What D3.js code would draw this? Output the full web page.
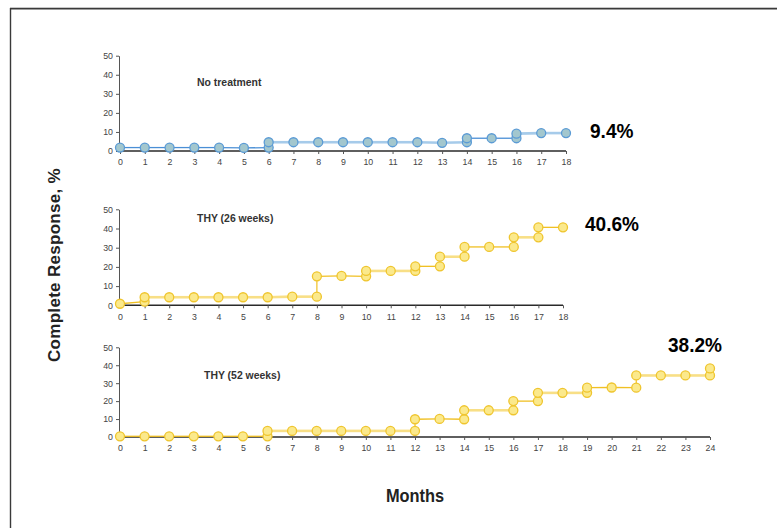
<!DOCTYPE html>
<html>
<head>
<meta charset="utf-8">
<script src="https://cdn.jsdelivr.net/npm/d3@7"></script>
<style>
  html, body { margin: 0; padding: 0; background: #fff; }
  svg { display: block; }
  text { font-family: "Liberation Sans", Arial, Helvetica, sans-serif; }
</style>
</head>
<body>
<svg id="chart" width="777" height="528"></svg>
<script>
// Complete response over time, three cohorts (step curves with observation markers)
const yTicks = [0, 10, 20, 30, 40, 50];

const noTreatLabel = "No treatment";
const noTreatFinal = "9.4%";
const noTreatMonths = [0, 1, 2, 3, 4, 5, 6, 6, 7, 8, 9, 10, 11, 12, 13, 14, 14, 15, 16, 16, 17, 18];
const noTreatCR     = [1.8, 1.8, 1.8, 1.8, 1.8, 1.6, 1.8, 4.6, 4.6, 4.6, 4.6, 4.6, 4.6, 4.6, 4.3, 4.6, 6.7, 6.7, 6.7, 9.1, 9.4, 9.4];

const thy26Label = "THY (26 weeks)";
const thy26Final = "40.6%";
const thy26Months = [0, 1, 1, 2, 3, 4, 5, 6, 7, 8, 8, 9, 10, 10, 11, 12, 12, 13, 13, 14, 14, 15, 16, 16, 17, 17, 18];
const thy26CR     = [0.8, 1.9, 4.2, 4.2, 4.2, 4.2, 4.2, 4.2, 4.5, 4.5, 15.1, 15.3, 15.1, 17.9, 17.9, 17.9, 20.3, 20.3, 25.3, 25.3, 30.4, 30.4, 30.4, 35.4, 35.4, 40.6, 40.6];

const thy52Label = "THY (52 weeks)";
const thy52Final = "38.2%";
const thy52Months = [0, 1, 2, 3, 4, 5, 6, 6, 7, 8, 9, 10, 11, 12, 12, 13, 14, 14, 15, 16, 16, 17, 17, 18, 19, 19, 20, 21, 21, 22, 23, 24, 24];
const thy52CR     = [0.4, 0.4, 0.4, 0.4, 0.4, 0.4, 0.4, 3.4, 3.4, 3.4, 3.4, 3.4, 3.4, 3.4, 9.9, 10.1, 9.9, 14.9, 14.9, 14.9, 20, 20, 24.6, 24.6, 24.6, 27.5, 27.6, 27.5, 34.3, 34.3, 34.3, 34.3, 38.2];

const yTitle = "Complete Response, %";
const xTitle = "Months";

const blueStyle = { dark: "#4a8fd6", light: "#a6cbea", fill: "#a3c7ce", stroke: "#5b9bd5" };
const goldStyle = { dark: "#f0c024", light: "#f8df86", fill: "#fbe98c", stroke: "#efc52e" };

const panels = [
  { label: noTreatLabel, final: noTreatFinal, months: noTreatMonths, cr: noTreatCR, maxMonth: 18,
    xr: [120, 566], yr: [151, 55.7], style: blueStyle,
    labelPos: [197, 85.5], finalPos: [590, 138] },
  { label: thy26Label, final: thy26Final, months: thy26Months, cr: thy26CR, maxMonth: 18,
    xr: [120, 563], yr: [305.3, 209.3], style: goldStyle,
    labelPos: [197, 222], finalPos: [585, 231] },
  { label: thy52Label, final: thy52Final, months: thy52Months, cr: thy52CR, maxMonth: 24,
    xr: [120, 710], yr: [437, 347.3], style: goldStyle,
    labelPos: [204, 379], finalPos: [668, 352] }
];

const svg = d3.select("#chart");

// frame around the figure
svg.append("line").attr("x1", 10).attr("x2", 777).attr("y1", 7.5).attr("y2", 7.5)
  .attr("stroke", "#c8c8c8").attr("stroke-width", 1);
svg.append("line").attr("x1", 10).attr("x2", 777).attr("y1", 8.8).attr("y2", 8.8)
  .attr("stroke", "#3a3a3a").attr("stroke-width", 1.4);
svg.append("line").attr("x1", 10.5).attr("x2", 10.5).attr("y1", 8).attr("y2", 528)
  .attr("stroke", "#3a3a3a").attr("stroke-width", 1.4);

panels.forEach(p => {
  const x = d3.scaleLinear().domain([0, p.maxMonth]).range(p.xr);
  const y = d3.scaleLinear().domain([0, 50]).range(p.yr);
  const g = svg.append("g");

  // y axis
  const ya = g.append("g").attr("transform", `translate(${p.xr[0] - 1},0)`)
    .call(d3.axisLeft(y).tickValues(yTicks).tickSize(3).tickSizeOuter(0).tickPadding(3));
  ya.select(".domain").attr("stroke", "#555").attr("stroke-width", 1);
  ya.selectAll(".tick line").attr("stroke", "#555");
  ya.selectAll(".tick text").attr("fill", "#444").style("font-size", "8.8px")
    .style("font-family", "Liberation Sans, Arial, sans-serif");

  // x axis
  const xa = g.append("g").attr("transform", `translate(0,${p.yr[0]})`)
    .call(d3.axisBottom(x).tickValues(d3.range(0, p.maxMonth + 1)).tickSize(3).tickSizeOuter(0).tickPadding(5));
  xa.select(".domain").attr("stroke", "#2a2a2a").attr("stroke-width", 1.5)
    .attr("d", `M${p.xr[0] - 1},0H${p.xr[1]}`);
  xa.selectAll(".tick line").attr("stroke", "#555");
  xa.selectAll(".tick text").attr("fill", "#444").style("font-size", "8.8px")
    .style("font-family", "Liberation Sans, Arial, sans-serif");

  // points in order; a repeated month is a jump in the step curve
  const pts = p.months.map((m, i) => ({ m, v: p.cr[i] }));
  let run = 0;
  const segs = [];
  for (let i = 1; i < pts.length; i++) {
    const a = pts[i - 1], b = pts[i];
    if (a.m === b.m) {
      run += 1;
      segs.push({ a, b, vertical: true });
    } else {
      segs.push({ a, b, vertical: false, run });
    }
  }

  // horizontal runs alternate between a pale wide stroke and a darker thin one
  g.append("g").selectAll("line").data(segs.filter(s => !s.vertical)).join("line")
    .attr("x1", s => x(s.a.m)).attr("y1", s => y(s.a.v))
    .attr("x2", s => x(s.b.m)).attr("y2", s => y(s.b.v))
    .attr("stroke", s => s.run % 2 ? p.style.light : p.style.dark)
    .attr("stroke-width", s => s.run % 2 ? 2.6 : 1.3);
  g.append("g").selectAll("line").data(segs.filter(s => s.vertical)).join("line")
    .attr("x1", s => x(s.a.m)).attr("y1", s => y(s.a.v))
    .attr("x2", s => x(s.b.m)).attr("y2", s => y(s.b.v))
    .attr("stroke", p.style.dark).attr("stroke-width", 1.2);

  // markers
  g.append("g").selectAll("circle").data(pts).join("circle")
    .attr("cx", d => x(d.m)).attr("cy", d => y(d.v)).attr("r", 4.5)
    .attr("fill", p.style.fill).attr("stroke", p.style.stroke).attr("stroke-width", 1.3);

  // cohort label
  g.append("text")
    .attr("transform", `translate(${p.labelPos[0]},${p.labelPos[1]}) scale(0.95,1)`)
    .attr("fill", "#333").style("font-size", "11px").style("font-weight", "bold")
    .text(p.label);

  // final response rate
  g.append("text")
    .attr("transform", `translate(${p.finalPos[0]},${p.finalPos[1]}) scale(0.93,1)`)
    .attr("fill", "#000").style("font-size", "20.5px").style("font-weight", "bold")
    .text(p.final);
});

// axis titles
svg.append("text")
  .attr("transform", "translate(59.5,265) rotate(-90)")
  .attr("text-anchor", "middle")
  .attr("fill", "#222").style("font-size", "17px").style("font-weight", "bold")
  .style("letter-spacing", "0.3px")
  .text(yTitle);

svg.append("text")
  .attr("transform", "translate(415,502) scale(0.88,1)")
  .attr("text-anchor", "middle")
  .attr("fill", "#222").style("font-size", "18.6px").style("font-weight", "bold")
  .text(xTitle);
</script>
</body>
</html>
